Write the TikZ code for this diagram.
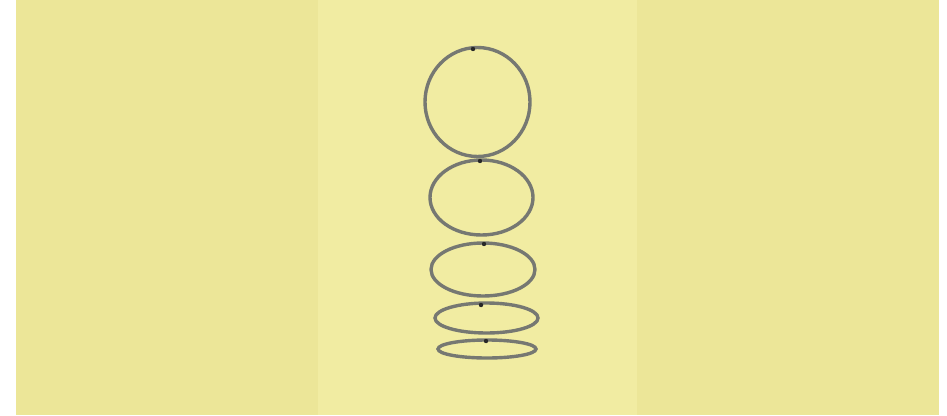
\documentclass[tikz,border=0pt]{standalone}
\usepackage{xcolor}
\usepackage{tikz}
\definecolor{outeryellow}{RGB}{236, 230, 152}
\definecolor{paperyellow}{RGB}{241, 236, 162}
\definecolor{pencilgray}{RGB}{118, 120, 114}
\definecolor{dotgray}{RGB}{40, 40, 40}

\begin{document}
\begin{tikzpicture}[
    x=1pt, y=-1pt,
    ring/.style={draw=pencilgray, line width=3.4pt},
    tipdot/.style={fill=dotgray}
]
    \useasboundingbox (0,0) rectangle (947,415);
    \fill[white] (0,0) rectangle (947,415);
    \fill[outeryellow] (16,0) rectangle (939,415);
    \fill[paperyellow] (318,0) rectangle (637,415);
    % stacked rings: centre x, centre y, x radius, y radius, dot x, dot y
    \foreach \cx/\cy/\rx/\ry/\dx/\dy in {
        477.5/102/52.5/54.5/473/49,
        481.5/197.5/51.5/37.5/480/161,
        483/269.5/52/26.5/484/244,
        486.5/318/51.5/15/481/305,
        487/349/49/9/486/341}{
        \draw[ring] (\cx,\cy) ellipse [x radius=\rx, y radius=\ry];
        \fill[tipdot] (\dx,\dy) circle (2.2);
    }
\end{tikzpicture}
\end{document}
